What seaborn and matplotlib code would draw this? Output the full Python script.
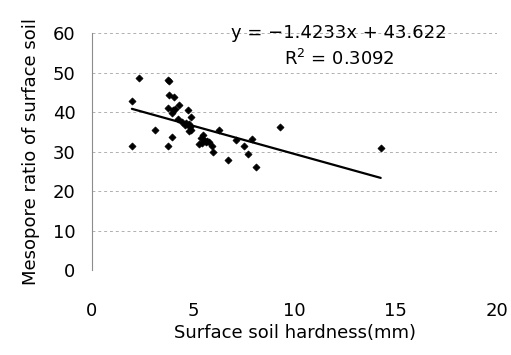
import matplotlib
matplotlib.use("Agg")
import matplotlib.pyplot as plt
import seaborn as sns
import pandas as pd
import numpy as np

# surface soil hardness (mm) vs mesopore ratio (%)
hardness = [1.97, 2.33, 1.97, 3.12, 3.77, 3.81, 3.80, 4.06, 3.73, 3.93,
            3.98, 4.10, 4.31, 4.23, 3.93, 3.75, 4.44, 4.57, 4.72, 4.90,
            4.81, 4.78, 4.89, 5.30, 5.47, 5.52, 5.63, 5.80, 5.93, 5.96,
            6.29, 6.71, 7.12, 7.50, 7.71, 7.89, 8.08, 9.30, 14.25, 5.38,
            5.45, 4.85, 4.65, 5.70]
mesopore = [42.7, 48.6, 31.4, 35.4, 48.0, 47.8, 44.2, 43.8, 41.0, 39.7,
            40.6, 40.8, 41.8, 38.3, 33.6, 31.5, 37.6, 36.8, 40.4, 38.8,
            37.0, 35.3, 35.5, 32.0, 34.2, 33.0, 32.5, 32.5, 31.3, 29.8,
            35.5, 27.9, 33.0, 31.4, 29.3, 33.1, 26.0, 36.1, 30.9, 33.4,
            32.2, 36.3, 37.2, 32.8]

slope = -1.4233
intercept = 43.622
r_squared = 0.3092

x_ticks = [0, 5, 10, 15, 20]
y_ticks = [0, 10, 20, 30, 40, 50, 60]

df = pd.DataFrame({"hardness": hardness, "mesopore": mesopore})

sns.set_theme(style="white")
plt.rcParams["font.family"] = ["DejaVu Sans"]
for key in ["text.color", "axes.labelcolor", "xtick.color", "ytick.color"]:
    plt.rcParams[key] = "black"

fig = plt.figure(figsize=(5.11, 3.55), dpi=100)
ax = fig.add_axes([0.18, 0.239, 0.793, 0.668])

sns.scatterplot(data=df, x="hardness", y="mesopore", ax=ax,
                marker="D", s=13, color="black", edgecolor="black",
                linewidth=0.5, zorder=3)

# trend line from the reported fit, over the range of the data
xs = np.array([df["hardness"].min(), df["hardness"].max()])
ax.plot(xs, slope * xs + intercept, color="black", linewidth=1.6, zorder=2)

ax.set_xlim(0, 20)
ax.set_ylim(0, 60)
ax.set_xticks(x_ticks)
ax.set_yticks(y_ticks)
ax.tick_params(axis="x", labelsize=13, length=0, pad=23)
ax.tick_params(axis="y", labelsize=13, length=0, pad=12)

ax.yaxis.grid(True, color="#b0b0b0", linestyle=(0, (3, 3)), linewidth=0.7)
ax.xaxis.grid(False)
for side in ["top", "right", "bottom"]:
    ax.spines[side].set_visible(False)
ax.spines["left"].set_color("#8c8c8c")
ax.spines["left"].set_linewidth(0.8)

ax.set_xlabel("Surface soil hardness(mm)", fontsize=13, labelpad=3)
ax.set_ylabel("Mesopore ratio of surface soil", fontsize=13, labelpad=9)

ax.text(0.61, 1.0, "y = \u22121.4233x + 43.622", transform=ax.transAxes,
        ha="center", va="center", fontsize=13)
ax.text(0.61, 0.89, f"R$^2$ = {r_squared}", transform=ax.transAxes,
        ha="center", va="center", fontsize=13)

fig.savefig("out.png", dpi=100)
